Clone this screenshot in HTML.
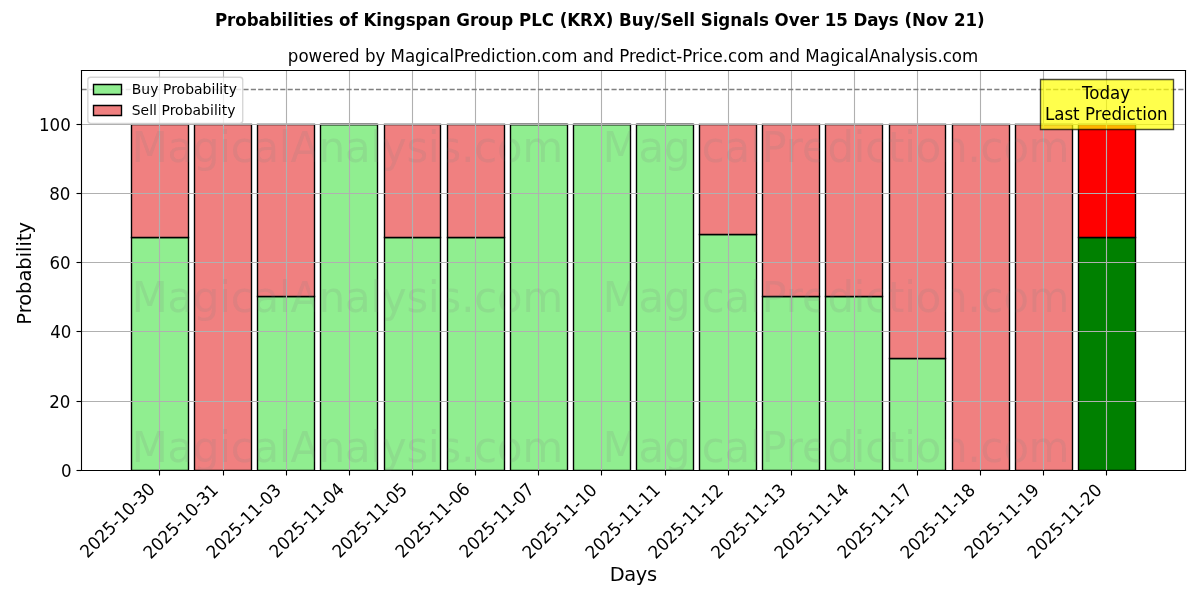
<!DOCTYPE html>
<html><head><meta charset="utf-8"><title>Probabilities of Kingspan Group PLC (KRX) Buy/Sell Signals</title>
<style>html,body{margin:0;padding:0;background:#fff;width:1200px;height:600px;overflow:hidden}svg{display:block;will-change:transform}</style>
</head><body>
<svg width="1200" height="600" viewBox="0 0 864 432" version="1.1">
 <defs><clipPath id="wmclip"><rect x="94.68" y="89.64" width="41.04" height="249.12"/><rect x="140.04" y="89.64" width="41.04" height="249.12"/><rect x="185.4" y="89.64" width="41.04" height="249.12"/><rect x="230.76" y="89.64" width="41.04" height="249.12"/><rect x="276.84" y="89.64" width="40.32" height="249.12"/><rect x="322.2" y="89.64" width="41.04" height="249.12"/><rect x="367.56" y="89.64" width="41.04" height="249.12"/><rect x="412.92" y="89.64" width="41.04" height="249.12"/><rect x="458.28" y="89.64" width="41.04" height="249.12"/><rect x="503.64" y="89.64" width="41.04" height="249.12"/><rect x="549" y="89.64" width="41.04" height="249.12"/><rect x="594.36" y="89.64" width="41.04" height="249.12"/><rect x="640.44" y="89.64" width="40.32" height="249.12"/><rect x="685.8" y="89.64" width="41.04" height="249.12"/><rect x="731.16" y="89.64" width="41.04" height="249.12"/><rect x="776.52" y="89.64" width="41.04" height="249.12"/></clipPath>
  <style type="text/css">*{stroke-linejoin: round; stroke-linecap: butt}</style>
 </defs>
 <g id="figure_1">
  <g id="patch_1">
   <path d="M 0 432 L 864 432 L 864 0 L 0 0 z" style="fill: #ffffff"/>
  </g>
  <g id="axes_1">
   <g id="patch_2">
    <path d="M 58.32 338.4 L 853.2 338.4 L 853.2 50.4 L 58.32 50.4 z" style="fill: #ffffff"/>
   </g>
   <g id="patch_3">
    <path d="M 94.68 338.76 L 135.72 338.76 L 135.72 171 L 94.68 171 z" clip-path="url(#peb7e479e67)" style="fill: #90ee90; stroke: #000000; stroke-linejoin: miter"/>
   </g>
   <g id="patch_4">
    <path d="M 140.04 338.76 L 181.08 338.76 L 181.08 338.76 L 140.04 338.76 z" clip-path="url(#peb7e479e67)" style="fill: #90ee90; stroke: #000000; stroke-linejoin: miter"/>
   </g>
   <g id="patch_5">
    <path d="M 185.4 338.76 L 226.44 338.76 L 226.44 213.48 L 185.4 213.48 z" clip-path="url(#peb7e479e67)" style="fill: #90ee90; stroke: #000000; stroke-linejoin: miter"/>
   </g>
   <g id="patch_6">
    <path d="M 230.76 338.76 L 271.8 338.76 L 271.8 89.64 L 230.76 89.64 z" clip-path="url(#peb7e479e67)" style="fill: #90ee90; stroke: #000000; stroke-linejoin: miter"/>
   </g>
   <g id="patch_7">
    <path d="M 276.84 338.76 L 317.16 338.76 L 317.16 171 L 276.84 171 z" clip-path="url(#peb7e479e67)" style="fill: #90ee90; stroke: #000000; stroke-linejoin: miter"/>
   </g>
   <g id="patch_8">
    <path d="M 322.2 338.76 L 363.24 338.76 L 363.24 171 L 322.2 171 z" clip-path="url(#peb7e479e67)" style="fill: #90ee90; stroke: #000000; stroke-linejoin: miter"/>
   </g>
   <g id="patch_9">
    <path d="M 367.56 338.76 L 408.6 338.76 L 408.6 89.64 L 367.56 89.64 z" clip-path="url(#peb7e479e67)" style="fill: #90ee90; stroke: #000000; stroke-linejoin: miter"/>
   </g>
   <g id="patch_10">
    <path d="M 412.92 338.76 L 453.96 338.76 L 453.96 89.64 L 412.92 89.64 z" clip-path="url(#peb7e479e67)" style="fill: #90ee90; stroke: #000000; stroke-linejoin: miter"/>
   </g>
   <g id="patch_11">
    <path d="M 458.28 338.76 L 499.32 338.76 L 499.32 89.64 L 458.28 89.64 z" clip-path="url(#peb7e479e67)" style="fill: #90ee90; stroke: #000000; stroke-linejoin: miter"/>
   </g>
   <g id="patch_12">
    <path d="M 503.64 338.76 L 544.68 338.76 L 544.68 168.84 L 503.64 168.84 z" clip-path="url(#peb7e479e67)" style="fill: #90ee90; stroke: #000000; stroke-linejoin: miter"/>
   </g>
   <g id="patch_13">
    <path d="M 549 338.76 L 590.04 338.76 L 590.04 213.48 L 549 213.48 z" clip-path="url(#peb7e479e67)" style="fill: #90ee90; stroke: #000000; stroke-linejoin: miter"/>
   </g>
   <g id="patch_14">
    <path d="M 594.36 338.76 L 635.4 338.76 L 635.4 213.48 L 594.36 213.48 z" clip-path="url(#peb7e479e67)" style="fill: #90ee90; stroke: #000000; stroke-linejoin: miter"/>
   </g>
   <g id="patch_15">
    <path d="M 640.44 338.76 L 680.76 338.76 L 680.76 258.12 L 640.44 258.12 z" clip-path="url(#peb7e479e67)" style="fill: #90ee90; stroke: #000000; stroke-linejoin: miter"/>
   </g>
   <g id="patch_16">
    <path d="M 685.8 338.76 L 726.84 338.76 L 726.84 338.76 L 685.8 338.76 z" clip-path="url(#peb7e479e67)" style="fill: #90ee90; stroke: #000000; stroke-linejoin: miter"/>
   </g>
   <g id="patch_17">
    <path d="M 731.16 338.76 L 772.2 338.76 L 772.2 338.76 L 731.16 338.76 z" clip-path="url(#peb7e479e67)" style="fill: #90ee90; stroke: #000000; stroke-linejoin: miter"/>
   </g>
   <g id="patch_18">
    <path d="M 776.52 338.76 L 817.56 338.76 L 817.56 171 L 776.52 171 z" clip-path="url(#peb7e479e67)" style="fill: #008000; stroke: #000000; stroke-linejoin: miter"/>
   </g>
   <g id="patch_19">
    <path d="M 94.68 171 L 135.72 171 L 135.72 89.64 L 94.68 89.64 z" clip-path="url(#peb7e479e67)" style="fill: #f08080; stroke: #000000; stroke-linejoin: miter"/>
   </g>
   <g id="patch_20">
    <path d="M 140.04 338.76 L 181.08 338.76 L 181.08 89.64 L 140.04 89.64 z" clip-path="url(#peb7e479e67)" style="fill: #f08080; stroke: #000000; stroke-linejoin: miter"/>
   </g>
   <g id="patch_21">
    <path d="M 185.4 213.48 L 226.44 213.48 L 226.44 89.64 L 185.4 89.64 z" clip-path="url(#peb7e479e67)" style="fill: #f08080; stroke: #000000; stroke-linejoin: miter"/>
   </g>
   <g id="patch_22">
    <path d="M 230.76 89.64 L 271.8 89.64 L 271.8 89.64 L 230.76 89.64 z" clip-path="url(#peb7e479e67)" style="fill: #f08080; stroke: #000000; stroke-linejoin: miter"/>
   </g>
   <g id="patch_23">
    <path d="M 276.84 171 L 317.16 171 L 317.16 89.64 L 276.84 89.64 z" clip-path="url(#peb7e479e67)" style="fill: #f08080; stroke: #000000; stroke-linejoin: miter"/>
   </g>
   <g id="patch_24">
    <path d="M 322.2 171 L 363.24 171 L 363.24 89.64 L 322.2 89.64 z" clip-path="url(#peb7e479e67)" style="fill: #f08080; stroke: #000000; stroke-linejoin: miter"/>
   </g>
   <g id="patch_25">
    <path d="M 367.56 89.64 L 408.6 89.64 L 408.6 89.64 L 367.56 89.64 z" clip-path="url(#peb7e479e67)" style="fill: #f08080; stroke: #000000; stroke-linejoin: miter"/>
   </g>
   <g id="patch_26">
    <path d="M 412.92 89.64 L 453.96 89.64 L 453.96 89.64 L 412.92 89.64 z" clip-path="url(#peb7e479e67)" style="fill: #f08080; stroke: #000000; stroke-linejoin: miter"/>
   </g>
   <g id="patch_27">
    <path d="M 458.28 89.64 L 499.32 89.64 L 499.32 89.64 L 458.28 89.64 z" clip-path="url(#peb7e479e67)" style="fill: #f08080; stroke: #000000; stroke-linejoin: miter"/>
   </g>
   <g id="patch_28">
    <path d="M 503.64 168.84 L 544.68 168.84 L 544.68 89.64 L 503.64 89.64 z" clip-path="url(#peb7e479e67)" style="fill: #f08080; stroke: #000000; stroke-linejoin: miter"/>
   </g>
   <g id="patch_29">
    <path d="M 549 213.48 L 590.04 213.48 L 590.04 89.64 L 549 89.64 z" clip-path="url(#peb7e479e67)" style="fill: #f08080; stroke: #000000; stroke-linejoin: miter"/>
   </g>
   <g id="patch_30">
    <path d="M 594.36 213.48 L 635.4 213.48 L 635.4 89.64 L 594.36 89.64 z" clip-path="url(#peb7e479e67)" style="fill: #f08080; stroke: #000000; stroke-linejoin: miter"/>
   </g>
   <g id="patch_31">
    <path d="M 640.44 258.12 L 680.76 258.12 L 680.76 89.64 L 640.44 89.64 z" clip-path="url(#peb7e479e67)" style="fill: #f08080; stroke: #000000; stroke-linejoin: miter"/>
   </g>
   <g id="patch_32">
    <path d="M 685.8 338.76 L 726.84 338.76 L 726.84 89.64 L 685.8 89.64 z" clip-path="url(#peb7e479e67)" style="fill: #f08080; stroke: #000000; stroke-linejoin: miter"/>
   </g>
   <g id="patch_33">
    <path d="M 731.16 338.76 L 772.2 338.76 L 772.2 89.64 L 731.16 89.64 z" clip-path="url(#peb7e479e67)" style="fill: #f08080; stroke: #000000; stroke-linejoin: miter"/>
   </g>
   <g id="patch_34">
    <path d="M 776.52 171 L 817.56 171 L 817.56 89.64 L 776.52 89.64 z" clip-path="url(#peb7e479e67)" style="fill: #ff0000; stroke: #000000; stroke-linejoin: miter"/>
   </g>
   <g id="matplotlib.axis_1">
    <g id="xtick_1">
     <g id="line2d_1">
      <path d="M 114.84 338.76 L 114.84 50.76" clip-path="url(#peb7e479e67)" style="fill: none; stroke: #b0b0b0; stroke-width: 0.8; stroke-linecap: square"/>
     </g>
     <g id="line2d_2">
      <g>
       <path style="stroke: #000000; stroke-width: 0.8" d="M 114.84 338.76 L 114.84 342.36"/>
      </g>
     </g>
     <g id="text_1">
      <g transform="translate(-0.746 0.978)"><text style="font-size: 12px; font-family: 'DejaVu Sans', 'Liberation Sans', sans-serif" transform="translate(63.798382 401.356253) rotate(-45) scale(1 1.0600)">2025-10-30</text></g>
     </g>
    </g>
    <g id="xtick_2">
     <g id="line2d_3">
      <path d="M 160.92 338.76 L 160.92 50.76" clip-path="url(#peb7e479e67)" style="fill: none; stroke: #b0b0b0; stroke-width: 0.8; stroke-linecap: square"/>
     </g>
     <g id="line2d_4">
      <g>
       <path style="stroke: #000000; stroke-width: 0.8" d="M 160.92 338.76 L 160.92 342.36"/>
      </g>
     </g>
     <g id="text_2">
      <g transform="translate(-0.662 1.523)"><text style="font-size: 12px; font-family: 'DejaVu Sans', 'Liberation Sans', sans-serif" transform="translate(109.18643 401.419893) rotate(-45) scale(1 1.0600)">2025-10-31</text></g>
     </g>
    </g>
    <g id="xtick_3">
     <g id="line2d_5">
      <path d="M 206.28 338.76 L 206.28 50.76" clip-path="url(#peb7e479e67)" style="fill: none; stroke: #b0b0b0; stroke-width: 0.8; stroke-linecap: square"/>
     </g>
     <g id="line2d_6">
      <g>
       <path style="stroke: #000000; stroke-width: 0.8" d="M 206.28 338.76 L 206.28 342.36"/>
      </g>
     </g>
     <g id="text_3">
      <g transform="translate(-0.725 1.494)"><text style="font-size: 12px; font-family: 'DejaVu Sans', 'Liberation Sans', sans-serif" transform="translate(154.638116 401.419893) rotate(-45) scale(1 1.0600)">2025-11-03</text></g>
     </g>
    </g>
    <g id="xtick_4">
     <g id="line2d_7">
      <path d="M 251.64 338.76 L 251.64 50.76" clip-path="url(#peb7e479e67)" style="fill: none; stroke: #b0b0b0; stroke-width: 0.8; stroke-linecap: square"/>
     </g>
     <g id="line2d_8">
      <g>
       <path style="stroke: #000000; stroke-width: 0.8" d="M 251.64 338.76 L 251.64 342.36"/>
      </g>
     </g>
     <g id="text_4">
      <g transform="translate(-0.835 0.969)"><text style="font-size: 12px; font-family: 'DejaVu Sans', 'Liberation Sans', sans-serif" transform="translate(200.153442 401.356253) rotate(-45) scale(1 1.0600)">2025-11-04</text></g>
     </g>
    </g>
    <g id="xtick_5">
     <g id="line2d_9">
      <path d="M 297 338.76 L 297 50.76" clip-path="url(#peb7e479e67)" style="fill: none; stroke: #b0b0b0; stroke-width: 0.8; stroke-linecap: square"/>
     </g>
     <g id="line2d_10">
      <g>
       <path style="stroke: #000000; stroke-width: 0.8" d="M 297 338.76 L 297 342.36"/>
      </g>
     </g>
     <g id="text_5">
      <g transform="translate(-0.948 0.996)"><text style="font-size: 12px; font-family: 'DejaVu Sans', 'Liberation Sans', sans-serif" transform="translate(245.605129 401.356253) rotate(-45) scale(1 1.0600)">2025-11-05</text></g>
     </g>
    </g>
    <g id="xtick_6">
     <g id="line2d_11">
      <path d="M 342.36 338.76 L 342.36 50.76" clip-path="url(#peb7e479e67)" style="fill: none; stroke: #b0b0b0; stroke-width: 0.8; stroke-linecap: square"/>
     </g>
     <g id="line2d_12">
      <g>
       <path style="stroke: #000000; stroke-width: 0.8" d="M 342.36 338.76 L 342.36 342.36"/>
      </g>
     </g>
     <g id="text_6">
      <g transform="translate(-1.121 0.890)"><text style="font-size: 12px; font-family: 'DejaVu Sans', 'Liberation Sans', sans-serif" transform="translate(291.056816 401.356253) rotate(-45) scale(1 1.0600)">2025-11-06</text></g>
     </g>
    </g>
    <g id="xtick_7">
     <g id="line2d_13">
      <path d="M 387.72 338.76 L 387.72 50.76" clip-path="url(#peb7e479e67)" style="fill: none; stroke: #b0b0b0; stroke-width: 0.8; stroke-linecap: square"/>
     </g>
     <g id="line2d_14">
      <g>
       <path style="stroke: #000000; stroke-width: 0.8" d="M 387.72 338.76 L 387.72 342.36"/>
      </g>
     </g>
     <g id="text_7">
      <g transform="translate(-0.413 1.001)"><text style="font-size: 12px; font-family: 'DejaVu Sans', 'Liberation Sans', sans-serif" transform="translate(336.508503 401.356253) rotate(-45) scale(1 1.0600)">2025-11-07</text></g>
     </g>
    </g>
    <g id="xtick_8">
     <g id="line2d_15">
      <path d="M 433.08 338.76 L 433.08 50.76" clip-path="url(#peb7e479e67)" style="fill: none; stroke: #b0b0b0; stroke-width: 0.8; stroke-linecap: square"/>
     </g>
     <g id="line2d_16">
      <g>
       <path style="stroke: #000000; stroke-width: 0.8" d="M 433.08 338.76 L 433.08 342.36"/>
      </g>
     </g>
     <g id="text_8">
      <g transform="translate(-0.520 1.532)"><text style="font-size: 12px; font-family: 'DejaVu Sans', 'Liberation Sans', sans-serif" transform="translate(381.89655 401.419893) rotate(-45) scale(1 1.0600)">2025-11-10</text></g>
     </g>
    </g>
    <g id="xtick_9">
     <g id="line2d_17">
      <path d="M 479.16 338.76 L 479.16 50.76" clip-path="url(#peb7e479e67)" style="fill: none; stroke: #b0b0b0; stroke-width: 0.8; stroke-linecap: square"/>
     </g>
     <g id="line2d_18">
      <g>
       <path style="stroke: #000000; stroke-width: 0.8" d="M 479.16 338.76 L 479.16 342.36"/>
      </g>
     </g>
     <g id="text_9">
      <g transform="translate(-0.464 1.569)"><text style="font-size: 12px; font-family: 'DejaVu Sans', 'Liberation Sans', sans-serif" transform="translate(427.284597 401.483532) rotate(-45) scale(1 1.0600)">2025-11-11</text></g>
     </g>
    </g>
    <g id="xtick_10">
     <g id="line2d_19">
      <path d="M 524.52 338.76 L 524.52 50.76" clip-path="url(#peb7e479e67)" style="fill: none; stroke: #b0b0b0; stroke-width: 0.8; stroke-linecap: square"/>
     </g>
     <g id="line2d_20">
      <g>
       <path style="stroke: #000000; stroke-width: 0.8" d="M 524.52 338.76 L 524.52 342.36"/>
      </g>
     </g>
     <g id="text_10">
      <g transform="translate(-0.583 1.599)"><text style="font-size: 12px; font-family: 'DejaVu Sans', 'Liberation Sans', sans-serif" transform="translate(472.736283 401.483532) rotate(-45) scale(1 1.0600)">2025-11-12</text></g>
     </g>
    </g>
    <g id="xtick_11">
     <g id="line2d_21">
      <path d="M 569.88 338.76 L 569.88 50.76" clip-path="url(#peb7e479e67)" style="fill: none; stroke: #b0b0b0; stroke-width: 0.8; stroke-linecap: square"/>
     </g>
     <g id="line2d_22">
      <g>
       <path style="stroke: #000000; stroke-width: 0.8" d="M 569.88 338.76 L 569.88 342.36"/>
      </g>
     </g>
     <g id="text_11">
      <g transform="translate(-0.818 1.567)"><text style="font-size: 12px; font-family: 'DejaVu Sans', 'Liberation Sans', sans-serif" transform="translate(518.18797 401.483532) rotate(-45) scale(1 1.0600)">2025-11-13</text></g>
     </g>
    </g>
    <g id="xtick_12">
     <g id="line2d_23">
      <path d="M 615.24 338.76 L 615.24 50.76" clip-path="url(#peb7e479e67)" style="fill: none; stroke: #b0b0b0; stroke-width: 0.8; stroke-linecap: square"/>
     </g>
     <g id="line2d_24">
      <g>
       <path style="stroke: #000000; stroke-width: 0.8" d="M 615.24 338.76 L 615.24 342.36"/>
      </g>
     </g>
     <g id="text_12">
      <g transform="translate(-0.895 1.552)"><text style="font-size: 12px; font-family: 'DejaVu Sans', 'Liberation Sans', sans-serif" transform="translate(563.703296 401.419893) rotate(-45) scale(1 1.0600)">2025-11-14</text></g>
     </g>
    </g>
    <g id="xtick_13">
     <g id="line2d_25">
      <path d="M 660.6 338.76 L 660.6 50.76" clip-path="url(#peb7e479e67)" style="fill: none; stroke: #b0b0b0; stroke-width: 0.8; stroke-linecap: square"/>
     </g>
     <g id="line2d_26">
      <g>
       <path style="stroke: #000000; stroke-width: 0.8" d="M 660.6 338.76 L 660.6 342.36"/>
      </g>
     </g>
     <g id="text_13">
      <g transform="translate(-0.933 1.505)"><text style="font-size: 12px; font-family: 'DejaVu Sans', 'Liberation Sans', sans-serif" transform="translate(609.154983 401.419893) rotate(-45) scale(1 1.0600)">2025-11-17</text></g>
     </g>
    </g>
    <g id="xtick_14">
     <g id="line2d_27">
      <path d="M 705.96 338.76 L 705.96 50.76" clip-path="url(#peb7e479e67)" style="fill: none; stroke: #b0b0b0; stroke-width: 0.8; stroke-linecap: square"/>
     </g>
     <g id="line2d_28">
      <g>
       <path style="stroke: #000000; stroke-width: 0.8" d="M 705.96 338.76 L 705.96 342.36"/>
      </g>
     </g>
     <g id="text_14">
      <g transform="translate(-0.939 1.585)"><text style="font-size: 12px; font-family: 'DejaVu Sans', 'Liberation Sans', sans-serif" transform="translate(654.60667 401.419893) rotate(-45) scale(1 1.0600)">2025-11-18</text></g>
     </g>
    </g>
    <g id="xtick_15">
     <g id="line2d_29">
      <path d="M 751.32 338.76 L 751.32 50.76" clip-path="url(#peb7e479e67)" style="fill: none; stroke: #b0b0b0; stroke-width: 0.8; stroke-linecap: square"/>
     </g>
     <g id="line2d_30">
      <g>
       <path style="stroke: #000000; stroke-width: 0.8" d="M 751.32 338.76 L 751.32 342.36"/>
      </g>
     </g>
     <g id="text_15">
      <g transform="translate(-0.389 1.488)"><text style="font-size: 12px; font-family: 'DejaVu Sans', 'Liberation Sans', sans-serif" transform="translate(700.058356 401.419893) rotate(-45) scale(1 1.0500)">2025-11-19</text></g>
     </g>
    </g>
    <g id="xtick_16">
     <g id="line2d_31">
      <path d="M 796.68 338.76 L 796.68 50.76" clip-path="url(#peb7e479e67)" style="fill: none; stroke: #b0b0b0; stroke-width: 0.8; stroke-linecap: square"/>
     </g>
     <g id="line2d_32">
      <g>
       <path style="stroke: #000000; stroke-width: 0.8" d="M 796.68 338.76 L 796.68 342.36"/>
      </g>
     </g>
     <g id="text_16">
      <g transform="translate(-0.566 1.586)"><text style="font-size: 12px; font-family: 'DejaVu Sans', 'Liberation Sans', sans-serif" transform="translate(745.510043 401.419893) rotate(-45) scale(1 1.0500)">2025-11-20</text></g>
     </g>
    </g>
    <g id="text_17">
     <g transform="translate(0.335 -0.063)"><text textLength="34.211" lengthAdjust="spacing" style="font-size: 14px; font-family: 'DejaVu Sans', 'Liberation Sans', sans-serif; text-anchor: middle" transform="translate(455.725 418.32) rotate(-0) scale(1 1.0300)">Days</text></g>
    </g>
   </g>
   <g id="matplotlib.axis_2">
    <g id="ytick_1">
     <g id="line2d_33">
      <path d="M 58.68 338.76 L 853.56 338.76" clip-path="url(#peb7e479e67)" style="fill: none; stroke: #b0b0b0; stroke-width: 0.8; stroke-linecap: square"/>
     </g>
     <g id="line2d_34">
      <g>
       <path style="stroke: #000000; stroke-width: 0.8" d="M 58.68 338.76 L 55.08 338.76"/>
      </g>
     </g>
     <g id="text_18">
      <g transform="translate(0.341 -0.111)"><text style="font-size: 12px; font-family: 'DejaVu Sans', 'Liberation Sans', sans-serif; text-anchor: end" transform="translate(51.25 343.266117) rotate(-0) scale(1 1.0300)">0</text></g>
     </g>
    </g>
    <g id="ytick_2">
     <g id="line2d_35">
      <path d="M 58.68 289.08 L 853.56 289.08" clip-path="url(#peb7e479e67)" style="fill: none; stroke: #b0b0b0; stroke-width: 0.8; stroke-linecap: square"/>
     </g>
     <g id="line2d_36">
      <g>
       <path style="stroke: #000000; stroke-width: 0.8" d="M 58.68 289.08 L 55.08 289.08"/>
      </g>
     </g>
     <g id="text_19">
      <g transform="translate(-0.604 -0.015)"><text style="font-size: 12px; font-family: 'DejaVu Sans', 'Liberation Sans', sans-serif; text-anchor: end" transform="translate(51.25 293.467655) rotate(-0) scale(1 1.0600)">20</text></g>
     </g>
    </g>
    <g id="ytick_3">
     <g id="line2d_37">
      <path d="M 58.68 238.68 L 853.56 238.68" clip-path="url(#peb7e479e67)" style="fill: none; stroke: #b0b0b0; stroke-width: 0.8; stroke-linecap: square"/>
     </g>
     <g id="line2d_38">
      <g>
       <path style="stroke: #000000; stroke-width: 0.8" d="M 58.68 238.68 L 55.08 238.68"/>
      </g>
     </g>
     <g id="text_20">
      <g transform="translate(0.122 -0.516)"><text style="font-size: 12px; font-family: 'DejaVu Sans', 'Liberation Sans', sans-serif; text-anchor: end" transform="translate(51.25 243.669193) rotate(-0) scale(1 1.0200)">40</text></g>
     </g>
    </g>
    <g id="ytick_4">
     <g id="line2d_39">
      <path d="M 58.68 189 L 853.56 189" clip-path="url(#peb7e479e67)" style="fill: none; stroke: #b0b0b0; stroke-width: 0.8; stroke-linecap: square"/>
     </g>
     <g id="line2d_40">
      <g>
       <path style="stroke: #000000; stroke-width: 0.8" d="M 58.68 189 L 55.08 189"/>
      </g>
     </g>
     <g id="text_21">
      <g transform="translate(-0.429 -0.415)"><text style="font-size: 12px; font-family: 'DejaVu Sans', 'Liberation Sans', sans-serif; text-anchor: end" transform="translate(51.25 193.870732) rotate(-0) scale(1 1.0200)">60</text></g>
     </g>
    </g>
    <g id="ytick_5">
     <g id="line2d_41">
      <path d="M 58.68 139.32 L 853.56 139.32" clip-path="url(#peb7e479e67)" style="fill: none; stroke: #b0b0b0; stroke-width: 0.8; stroke-linecap: square"/>
     </g>
     <g id="line2d_42">
      <g>
       <path style="stroke: #000000; stroke-width: 0.8" d="M 58.68 139.32 L 55.08 139.32"/>
      </g>
     </g>
     <g id="text_22">
      <g transform="translate(-0.558 -0.319)"><text style="font-size: 12px; font-family: 'DejaVu Sans', 'Liberation Sans', sans-serif; text-anchor: end" transform="translate(51.25 144.07227) rotate(-0) scale(1 1.0300)">80</text></g>
     </g>
    </g>
    <g id="ytick_6">
     <g id="line2d_43">
      <path d="M 58.68 89.64 L 853.56 89.64" clip-path="url(#peb7e479e67)" style="fill: none; stroke: #b0b0b0; stroke-width: 0.8; stroke-linecap: square"/>
     </g>
     <g id="line2d_44">
      <g>
       <path style="stroke: #000000; stroke-width: 0.8" d="M 58.68 89.64 L 55.08 89.64"/>
      </g>
     </g>
     <g id="text_23">
      <g transform="translate(-0.289 -0.175)"><text style="font-size: 12px; font-family: 'DejaVu Sans', 'Liberation Sans', sans-serif; text-anchor: end" transform="translate(51.25 94.273808) rotate(-0) scale(1 1.0600)">100</text></g>
     </g>
    </g>
    <g id="text_24">
     <g transform="translate(0.445 2.376)"><text style="font-size: 14px; font-family: 'DejaVu Sans', 'Liberation Sans', sans-serif; text-anchor: middle" transform="translate(21.6 194.433058) rotate(-90) scale(1 1.0300)">Probability</text></g>
    </g>
   </g>
   <g id="line2d_45">
    <path d="M 58.68 64.44 L 853.56 64.44" clip-path="url(#peb7e479e67)" style="fill: none; stroke-dasharray: 3.7,1.6; stroke-dashoffset: 0; stroke: #808080"/>
   </g>
   <g id="patch_35">
    <path d="M 58.68 338.76 L 58.68 50.76" style="fill: none; stroke: #000000; stroke-width: 0.8; stroke-linejoin: miter; stroke-linecap: square"/>
   </g>
   <g id="patch_36">
    <path d="M 853.56 338.76 L 853.56 50.76" style="fill: none; stroke: #000000; stroke-width: 0.8; stroke-linejoin: miter; stroke-linecap: square"/>
   </g>
   <g id="patch_37">
    <path d="M 58.68 338.76 L 853.56 338.76" style="fill: none; stroke: #000000; stroke-width: 0.8; stroke-linejoin: miter; stroke-linecap: square"/>
   </g>
   <g id="patch_38">
    <path d="M 58.68 50.76 L 853.56 50.76" style="fill: none; stroke: #000000; stroke-width: 0.8; stroke-linejoin: miter; stroke-linecap: square"/>
   </g>
   <g id="text_25">
    <g id="patch_39">
     <path d="M 749.16 93.24 L 844.92 93.24 L 844.92 57.24 L 749.16 57.24 z" style="fill: #ffff00; fill-opacity: 0.7; stroke-opacity: 0.7; stroke: #000000; stroke-linejoin: miter"/>
    </g>
    <g transform="translate(-0.381 0.151)"><text textLength="34.684" lengthAdjust="spacing" style="font-size: 12px; font-family: 'DejaVu Sans', 'Liberation Sans', sans-serif" transform="translate(779.33265 71.377808) scale(1 1.0300)">Today</text></g>
    <g transform="translate(-0.158 -0.003)"><text textLength="88.369" lengthAdjust="spacing" style="font-size: 12px; font-family: 'DejaVu Sans', 'Liberation Sans', sans-serif" transform="translate(752.51265 86.353808) scale(1 1.0200)">Last Prediction</text></g>
   </g>
   <g id="text_26">
    <g transform="translate(0.045 0.016)"><text textLength="497.048" lengthAdjust="spacing" style="font-size: 12px; font-family: 'DejaVu Sans', 'Liberation Sans', sans-serif; text-anchor: middle" transform="translate(455.725 44.64) rotate(-0) scale(1 1.0500)">powered by MagicalPrediction.com and Predict-Price.com and MagicalAnalysis.com</text></g>
   </g>
   <g id="legend_1">
    <g id="patch_40">
     <path d="M 65.25 88.8 L 172.76 88.8 Q 174.76 88.8 174.76 86.8 L 174.76 57.64 Q 174.76 55.64 172.76 55.64 L 65.25 55.64 Q 63.25 55.64 63.25 57.64 L 63.25 86.8 Q 63.25 88.8 65.25 88.8 z" style="fill: #ffffff; fill-opacity: 0.8; stroke-opacity: 0.8; stroke: #cccccc; stroke-linejoin: miter"/>
    </g>
    <g id="patch_41">
     <path d="M 67.32 68.04 L 87.48 68.04 L 87.48 60.84 L 67.32 60.84 z" style="fill: #90ee90; stroke: #000000; stroke-linejoin: miter"/>
    </g>
    <g id="text_27">
     <g transform="translate(-0.400 -0.228)"><text textLength="75.803" lengthAdjust="spacing" style="font-size: 10px; font-family: 'DejaVu Sans', 'Liberation Sans', sans-serif; text-anchor: start" transform="translate(95.25 67.56) rotate(-0) scale(1 1.0600)">Buy Probability</text></g>
    </g>
    <g id="patch_42">
     <path d="M 67.32 83.16 L 87.48 83.16 L 87.48 75.96 L 67.32 75.96 z" style="fill: #f08080; stroke: #000000; stroke-linejoin: miter"/>
    </g>
    <g id="text_28">
     <g transform="translate(-0.452 -0.070)"><text textLength="74.745" lengthAdjust="spacing" style="font-size: 10px; font-family: 'DejaVu Sans', 'Liberation Sans', sans-serif; text-anchor: start" transform="translate(95.25 82.64) rotate(-0)">Sell Probability</text></g>
    </g>
   </g>
  </g>
  <g id="text_29">
   <g clip-path="url(#wmclip)"><g transform="translate(-0.185 -0.224)"><text textLength="310.556" lengthAdjust="spacing" style="font-size: 30px; font-family: 'DejaVu Sans', 'Liberation Sans', sans-serif; text-anchor: start; fill: #808080; opacity: 0.15" transform="translate(95.04 116.64) rotate(-0) scale(1 1.0400)">MagicalAnalysis.com</text></g></g>
  </g>
  <g id="text_30">
   <g clip-path="url(#wmclip)"><g transform="translate(-0.184 -0.018)"><text textLength="335.981" lengthAdjust="spacing" style="font-size: 30px; font-family: 'DejaVu Sans', 'Liberation Sans', sans-serif; text-anchor: start; fill: #808080; opacity: 0.15" transform="translate(434.16 116.64) rotate(-0) scale(1 1.0300)">MagicalPrediction.com</text></g></g>
  </g>
  <g id="text_31">
   <g clip-path="url(#wmclip)"><g transform="translate(-0.204 -0.050)"><text textLength="310.556" lengthAdjust="spacing" style="font-size: 30px; font-family: 'DejaVu Sans', 'Liberation Sans', sans-serif; text-anchor: start; fill: #808080; opacity: 0.15" transform="translate(95.04 224.64) rotate(-0) scale(1 1.0300)">MagicalAnalysis.com</text></g></g>
  </g>
  <g id="text_32">
   <g clip-path="url(#wmclip)"><g transform="translate(-0.184 -0.018)"><text textLength="335.981" lengthAdjust="spacing" style="font-size: 30px; font-family: 'DejaVu Sans', 'Liberation Sans', sans-serif; text-anchor: start; fill: #808080; opacity: 0.15" transform="translate(434.16 224.64) rotate(-0) scale(1 1.0300)">MagicalPrediction.com</text></g></g>
  </g>
  <g id="text_33">
   <g clip-path="url(#wmclip)"><g transform="translate(-0.204 -0.050)"><text textLength="310.556" lengthAdjust="spacing" style="font-size: 30px; font-family: 'DejaVu Sans', 'Liberation Sans', sans-serif; text-anchor: start; fill: #808080; opacity: 0.15" transform="translate(95.04 332.64) rotate(-0) scale(1 1.0300)">MagicalAnalysis.com</text></g></g>
  </g>
  <g id="text_34">
   <g clip-path="url(#wmclip)"><g transform="translate(-0.184 -0.018)"><text textLength="335.981" lengthAdjust="spacing" style="font-size: 30px; font-family: 'DejaVu Sans', 'Liberation Sans', sans-serif; text-anchor: start; fill: #808080; opacity: 0.15" transform="translate(434.16 332.64) rotate(-0) scale(1 1.0300)">MagicalPrediction.com</text></g></g>
  </g>
  <g id="text_35">
   <g transform="translate(-0.175 0.045)"><text textLength="554.231" lengthAdjust="spacing" style="font-weight: 700; font-size: 12px; font-family: 'DejaVu Sans', 'Liberation Sans', sans-serif; text-anchor: middle" transform="translate(432 18.72) rotate(-0) scale(1 1.0300)">Probabilities of Kingspan Group PLC (KRX) Buy/Sell Signals Over 15 Days (Nov 21)</text></g>
  </g>
 </g>
 <defs>
  <clipPath id="peb7e479e67">
   <rect x="58.32" y="50.4" width="794.88" height="288"/>
  </clipPath>
 </defs>
</svg>

</body></html>
